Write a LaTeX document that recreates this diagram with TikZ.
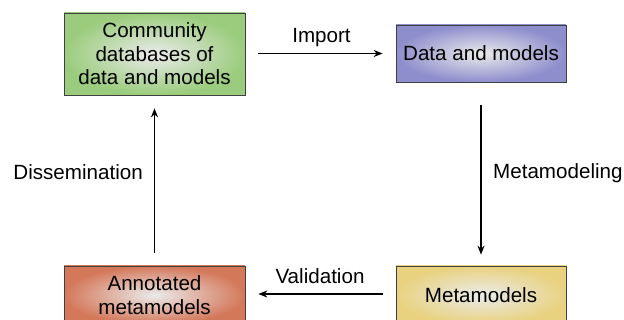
\documentclass[tikz,border=0pt]{standalone}
\usepackage{fontspec}
\setmainfont{Liberation Sans}
\usetikzlibrary{arrows.meta}
\definecolor{gout}{RGB}{155,204,125}
\definecolor{bout}{RGB}{142,142,205}
\definecolor{oout}{RGB}{212,120,90}
\definecolor{yout}{RGB}{232,210,128}
\tikzset{
  box/.style={draw=black!75, line width=0.7pt, inner sep=0pt, align=center,
    font=\fontsize{20.6}{23.5}\selectfont, inner color=white!92!black},
  lbl/.style={font=\fontsize{20.6}{23.5}\selectfont},
  arr/.style={line width=1.1pt, -{Stealth[length=9pt,width=7pt]}}
}
\begin{document}
\begin{tikzpicture}[x=1pt,y=1pt]
\useasboundingbox (0,0) rectangle (624,-320);
\clip (0,0) rectangle (624,-320);
\node[box, outer color=gout, minimum width=181pt, minimum height=82pt] (g) at (154.5,-54) {Community\\databases of\\data and models};
\node[box, outer color=bout, minimum width=170pt, minimum height=57pt] (b) at (481,-53.5) {Data and models};
\node[box, outer color=oout, minimum width=181pt, minimum height=58pt] (o) at (154.5,-295) {Annotated\\metamodels};
\node[box, outer color=yout, minimum width=170pt, minimum height=58pt] (y) at (481,-295) {Metamodels};
\draw[arr] ([xshift=13pt]g.east |- b.center) -- ([xshift=-13pt]b.west);
\draw[arr] ([yshift=-23pt]b.south) -- ([yshift=11pt]y.north);
\draw[arr] ([xshift=-13pt]y.west |- 0,-294) -- ([xshift=13pt]o.east |- 0,-294);
\draw[arr] ([yshift=13pt]o.north) -- ([yshift=-13pt]g.south);
\node[lbl] (li) at (321.5,-38) {Import};
\node[lbl, anchor=west, inner sep=0pt] (lm) at (493,-173) {Metamodeling};
\node[lbl] (lv) at (320,-276) {Validation};
\node[lbl, anchor=east, inner sep=0pt] (ld) at (143,-172) {Dissemination};
\end{tikzpicture}
\end{document}
